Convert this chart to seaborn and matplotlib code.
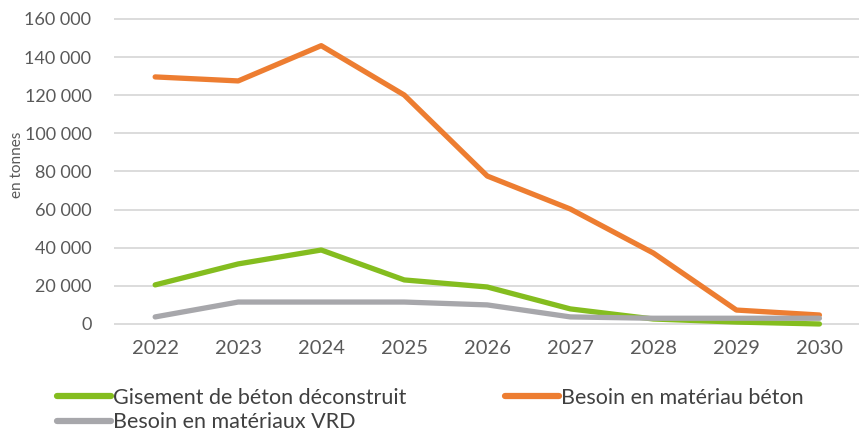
import pandas as pd
import matplotlib
matplotlib.use("Agg")
import matplotlib.pyplot as plt
import seaborn as sns

# Données
annees = ["2022", "2023", "2024", "2025", "2026", "2027", "2028", "2029", "2030"]
gisement_beton = [20500, 31500, 38800, 23100, 19400, 7900, 2600, 1000, 0]
besoin_beton = [129600, 127500, 146000, 120100, 77600, 60300, 37200, 7300, 4700]
besoin_vrd = [3700, 11500, 11500, 11500, 10000, 3700, 3000, 3000, 3000]

series = ["Gisement de béton déconstruit", "Besoin en matériau béton", "Besoin en matériaux VRD"]
couleurs = ["#84BD1F", "#ED7D31", "#A7A7AB"]

df = pd.DataFrame({
    "Annee": annees * 3,
    "Serie": [series[0]] * 9 + [series[1]] * 9 + [series[2]] * 9,
    "Valeur": gisement_beton + besoin_beton + besoin_vrd,
})
df["x"] = list(range(9)) * 3

sns.set_style("white")
plt.rcParams["font.family"] = ["Lato", "DejaVu Sans"]

fig = plt.figure(figsize=(8.61, 4.33), dpi=100)
ax = fig.add_axes([0.132, 0.243, 0.866, 0.722])

sns.lineplot(data=df, x="x", y="Valeur", hue="Serie", palette=couleurs,
             linewidth=3.8, ax=ax, legend=False, zorder=3)

ax.set_xlim(-0.5, 8.48)
ax.set_ylim(-2000, 162000)
ax.set_yticks(range(0, 160001, 20000))
ax.set_yticklabels([f"{v:,}".replace(",", " ") for v in range(0, 160001, 20000)],
                   fontsize=13, color="#595959")
ax.set_xticks(range(9))
ax.set_xticklabels(annees, fontsize=14.5, color="#595959")
ax.tick_params(axis="x", pad=9, length=0)
ax.tick_params(axis="y", pad=16, length=0)
ax.yaxis.grid(True, color="#D9D9D9", linewidth=1.3)
ax.set_xlabel("")
ax.set_ylabel("en tonnes", fontsize=11, color="#595959")
ax.yaxis.set_label_coords(-0.12, 0.52)
for s in ax.spines.values():
    s.set_visible(False)

# ordre colonne par colonne : vert, gris | orange
ordre = [0, 2, 1]
handles = [plt.Line2D([], [], color=couleurs[i], linewidth=4.5) for i in ordre]
labels = [series[i] for i in ordre]
fig.legend(handles, labels, loc="upper left", bbox_to_anchor=(0.066, 0.104),
           ncol=2, frameon=False, fontsize=15.5, handlelength=2.5,
           handletextpad=0.1, columnspacing=4.6, labelspacing=0.2,
           borderaxespad=0, borderpad=0, labelcolor="#404040")

fig.savefig("out.png", dpi=100)
